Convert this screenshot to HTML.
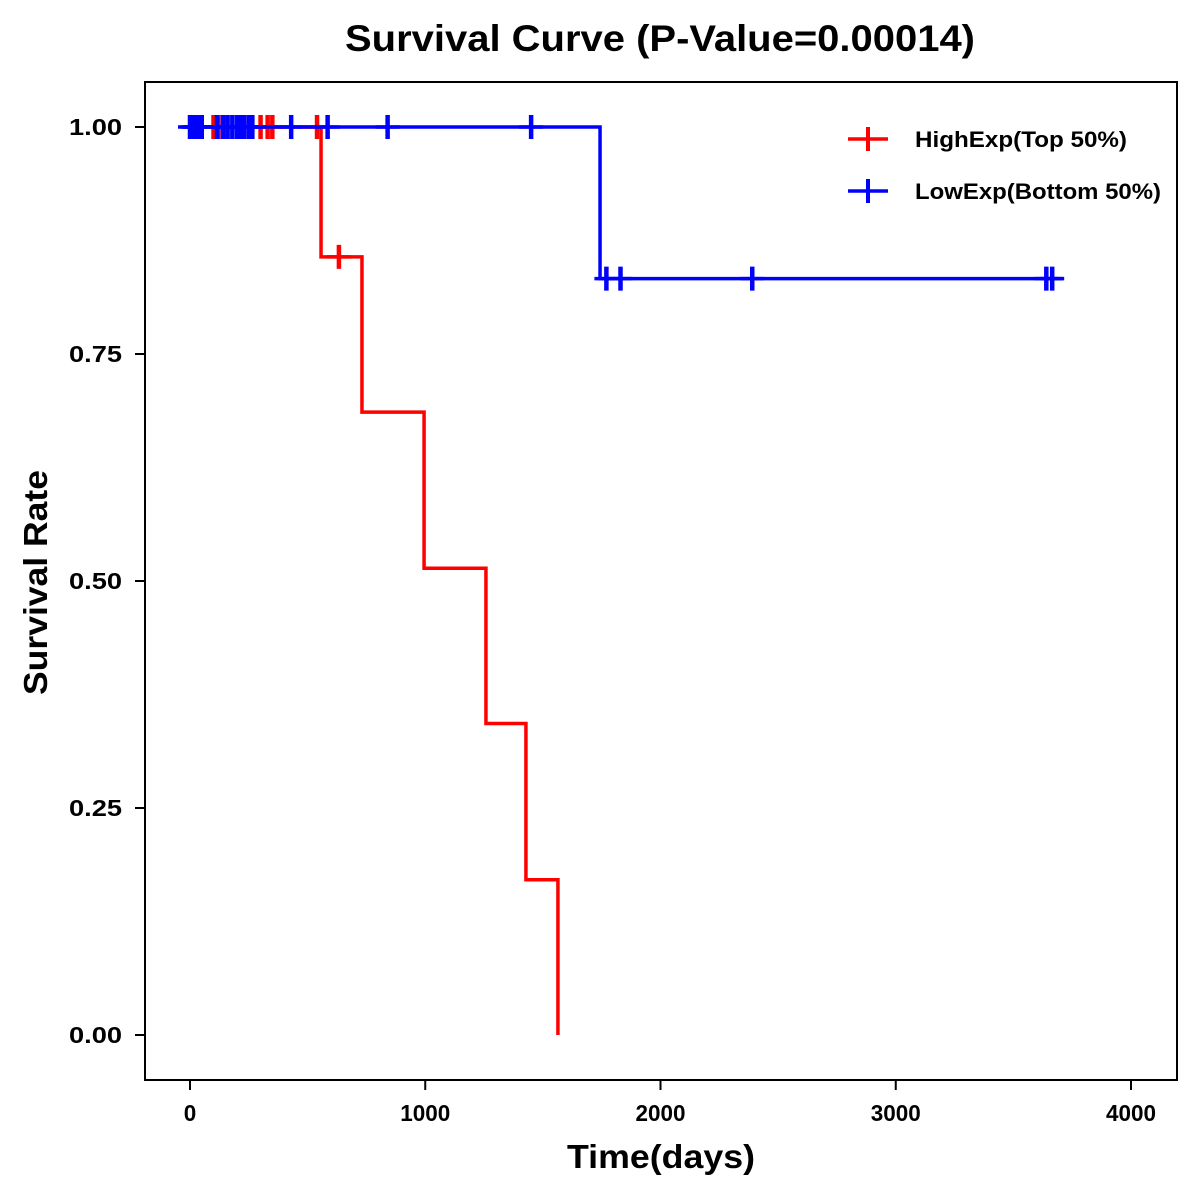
<!DOCTYPE html>
<html><head><meta charset="utf-8"><style>
html,body{margin:0;padding:0;background:#fff;}
svg{display:block;font-family:"Liberation Sans",Arial,sans-serif;}
</style></head><body>
<svg id="chart" width="1200" height="1200" viewBox="0 0 1200 1200">
<text x="345" y="51" font-size="37" font-weight="bold" textLength="630" lengthAdjust="spacingAndGlyphs">Survival Curve (P-Value=0.00014)</text>
<rect x="145" y="82" width="1032" height="998" fill="none" stroke="#000" stroke-width="2"/>
<g id="axes"></g>
<g id="series"></g>
<text x="567" y="1168" font-size="33" font-weight="bold" textLength="188" lengthAdjust="spacingAndGlyphs">Time(days)</text>
<text transform="translate(47,695) rotate(-90)" font-size="33" font-weight="bold" textLength="225" lengthAdjust="spacingAndGlyphs">Survival Rate</text>
<g>
<g>
<line x1="848" y1="139" x2="888" y2="139" stroke="#f00" stroke-width="3.5"/><line x1="868" y1="127" x2="868" y2="151" stroke="#f00" stroke-width="4"/>
<text x="915" y="147" font-size="22" font-weight="bold" textLength="212" lengthAdjust="spacingAndGlyphs">HighExp(Top 50%)</text></g>
<g>
<line x1="848" y1="191" x2="888" y2="191" stroke="#00f" stroke-width="3.5"/><line x1="868" y1="179" x2="868" y2="203" stroke="#00f" stroke-width="4"/>
<text x="915" y="199" font-size="22" font-weight="bold" textLength="246" lengthAdjust="spacingAndGlyphs">LowExp(Bottom 50%)</text></g>
</g>
</svg>
<script>
const xTicks=[0,1000,2000,3000,4000];
const yTicks=[0,0.25,0.5,0.75,1.0];
const yTickLabels=["0.00","0.25","0.50","0.75","1.00"];
const highTimes=[0,557,731,995,1258,1428,1564];
const highSurv=[1,0.857,0.686,0.514,0.343,0.171,0];
const highCensor=[20,100,120,150,250,300,330,350,540,633];
const highCensorSurv=[1,1,1,1,1,1,1,1,1,0.857];
const lowTimes=[0,1743];
const lowSurv=[1,0.833];
const lowEnd=3711;
const lowCensor=[0,10,20,30,40,50,115,140,160,180,200,215,230,250,265,430,585,840,1450,1770,1830,2390,3640,3665];
const highEnd=1564;

const NS="http://www.w3.org/2000/svg";
const X=d=>190+d*0.23525;
const Y=s=>1035-s*908;
function mk(tag,attrs,parent){const e=document.createElementNS(NS,tag);for(const k in attrs)e.setAttribute(k,attrs[k]);parent.appendChild(e);return e;}
const axes=document.getElementById('axes'),series=document.getElementById('series');
xTicks.forEach(t=>{
 const l=mk('line',{x1:X(t),x2:X(t),y1:1080,y2:1090,stroke:'#000','stroke-width':2},axes);
 
 
 const s=String(t);
 const tx=mk('text',{x:X(t),y:1121,'text-anchor':'middle','font-size':23,'font-weight':'bold',textLength:s.length*12.5,lengthAdjust:'spacingAndGlyphs'},axes);
 tx.textContent=s;
 
 
});
yTicks.forEach((t,i)=>{
 const l=mk('line',{x1:135,x2:145,y1:Y(t),y2:Y(t),stroke:'#000','stroke-width':2},axes);
 
 
 const tx=mk('text',{x:122,y:Y(t)+8,'text-anchor':'end','font-size':23,'font-weight':'bold',textLength:53,lengthAdjust:'spacingAndGlyphs'},axes);
 tx.textContent=yTickLabels[i];
 
 
});
function stepPath(times,surv,end){
 let d='M'+X(times[0])+','+Y(surv[0]);
 for(let i=1;i<times.length;i++){d+=' H'+X(times[i])+' V'+Y(surv[i]);}
 if(end>times[times.length-1])d+=' H'+X(end);
 return d;
}
function survAt(times,surv,t){let s=surv[0];for(let i=0;i<times.length;i++)if(times[i]<=t)s=surv[i];return s;}
function drawCensor(t,s,color,name){
 const g=mk('g',{},series);
 
 
 mk('line',{x1:X(t)-12,x2:X(t)+12,y1:Y(s),y2:Y(s),stroke:color,'stroke-width':3.5},g);
 mk('line',{x1:X(t),x2:X(t),y1:Y(s)-12,y2:Y(s)+12,stroke:color,'stroke-width':4.5},g);
}
const hp=mk('path',{d:stepPath(highTimes,highSurv,highEnd),fill:'none',stroke:'#f00','stroke-width':3.5},series);


highCensor.forEach((t,i)=>drawCensor(t,highCensorSurv[i],'#f00','high-censor-mark'));
const lp=mk('path',{d:stepPath(lowTimes,lowSurv,lowEnd),fill:'none',stroke:'#00f','stroke-width':3.5},series);


lowCensor.forEach(t=>drawCensor(t,survAt(lowTimes,lowSurv,t),'#00f','low-censor-mark'));
</script>
</body></html>
